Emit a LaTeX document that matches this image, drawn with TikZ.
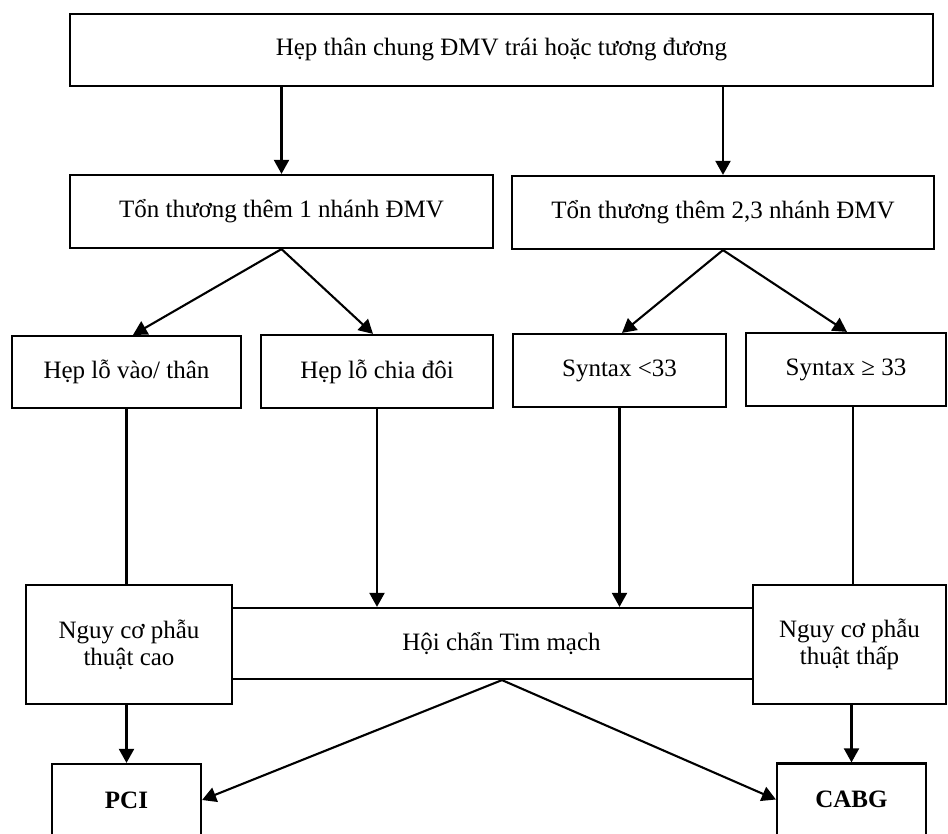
\documentclass[tikz,border=0pt]{standalone}
\usepackage{fontspec}
\setmainfont{Liberation Serif}
\usetikzlibrary{arrows.meta}
\begin{document}
\begin{tikzpicture}[x=0.5pt,y=-0.5pt,
  box/.style 2 args={draw, line width=1.1pt, rectangle, inner sep=0pt,
    minimum width=#1*0.5pt, minimum height=#2*0.5pt, align=center,
    font=\fontsize{12.5}{13.5}\selectfont},
  conn/.style={line width=1.05pt},
  arr/.style={line width=1.05pt, -{Triangle[length=7pt,width=7.5pt]}}]
\useasboundingbox (0,0) rectangle (948,834);
\node[box={863}{72}] (top) at (501.5,50) {Hẹp thân chung ĐMV trái hoặc tương đương};
\node[box={423}{73}] (t1) at (281.5,211.5) {Tổn thương thêm 1 nhánh ĐMV};
\node[box={422}{73}] (t2) at (723,212.5) {Tổn thương thêm 2,3 nhánh ĐMV};
\node[box={229}{72}] (a1) at (126.5,372) {Hẹp lỗ vào/ thân};
\node[box={232}{73}] (a2) at (377,371.5) {Hẹp lỗ chia đôi};
\node[box={213}{73}] (a3) at (619.5,370.5) {Syntax <33};
\node[box={200}{73}] (a4) at (846,369.5) {Syntax ≥ 33};
\node[box={521}{71}] (hc) at (492.5,643.5) {\hspace{9pt}Hội chẩn Tim mạch};
\node[box={206}{119}] (ncc) at (129,644.5) {Nguy cơ phẫu\\thuật cao};
\node[box={193}{119}] (nct) at (849.5,644.5) {Nguy cơ phẫu\\thuật thấp};
\node[box={149}{72}, font=\fontsize{12.5}{13.5}\selectfont\bfseries] (pci) at (126.5,800) {PCI};
\node[box={149}{72}, font=\fontsize{12.5}{13.5}\selectfont\bfseries] (cabg) at (851.5,799.5) {CABG};
\draw[arr] (top.south -| t1.north) -- (t1.north);
\draw[arr] (top.south -| t2.north) -- (t2.north);
\draw[arr] (t1.south) -- ([xshift=3.25pt]a1.north);
\draw[arr] (t1.south) -- ([xshift=-2pt]a2.north);
\draw[arr] (t2.south) -- ([xshift=1.25pt]a3.north);
\draw[arr] (t2.south) -- ([xshift=0.5pt]a4.north);
\draw[conn] (a1.south) -- (a1.south |- ncc.north);
\draw[arr] (a2.south) -- (a2.south |- hc.north);
\draw[arr] (a3.south) -- (a3.south |- hc.north);
\draw[conn] ([xshift=3.5pt]a4.south) -- ([xshift=3.5pt]a4.south |- nct.north);
\draw[arr] (ncc.south -| pci.north) -- (pci.north);
\draw[arr] (nct.south -| cabg.north) -- (cabg.north);
\draw[arr] ([xshift=4.75pt]hc.south) -- (pci.east);
\draw[arr] ([xshift=4.75pt]hc.south) -- (cabg.west);
\end{tikzpicture}
\end{document}
